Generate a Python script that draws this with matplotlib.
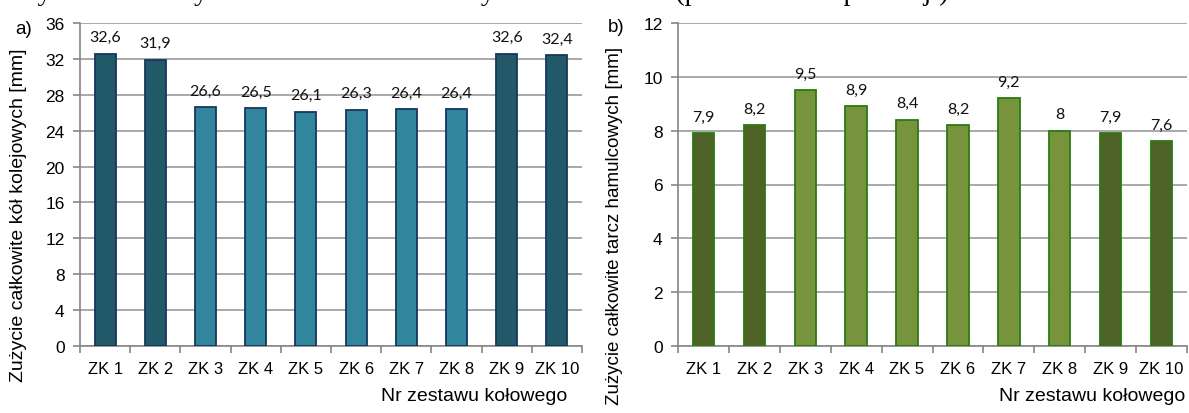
import matplotlib
matplotlib.use("Agg")
import matplotlib.pyplot as plt
from matplotlib.ticker import MultipleLocator, FixedLocator

# ---- data -------------------------------------------------------------
categories = ["ZK 1", "ZK 2", "ZK 3", "ZK 4", "ZK 5",
              "ZK 6", "ZK 7", "ZK 8", "ZK 9", "ZK 10"]
wheel_wear = [32.6, 31.9, 26.6, 26.5, 26.1, 26.3, 26.4, 26.4, 32.6, 32.4]
disc_wear = [7.9, 8.2, 9.5, 8.9, 8.4, 8.2, 9.2, 8.0, 7.9, 7.6]
# wheelsets drawn in the darker shade
dark_sets = ["ZK 1", "ZK 2", "ZK 9", "ZK 10"]

W, H = 1189, 414
fig = plt.figure(figsize=(W / 100, H / 100), dpi=100)
fig.patch.set_facecolor("white")


def fx(px):
    return px / W


def fy(py):
    return 1 - py / H


def fmt(v):
    return ("%g" % v).replace(".", ",")


grid_col = "#A3A3A3"
spine_col = "#868686"
sans = "Liberation Sans"


def draw(ax, values, ymax, ystep, light, dark, edge):
    x = list(range(len(categories)))
    colors = [dark if c in dark_sets else light for c in categories]
    bars = ax.bar(x, values, width=0.42, color=colors, edgecolor=edge,
                  linewidth=1.3, zorder=3)
    for b, v in zip(bars, values):
        ax.annotate(fmt(v), (b.get_x() + b.get_width() / 2, v),
                    xytext=(0, 12), textcoords="offset points",
                    ha="center", va="center", fontsize=11.5,
                    family="Lato", color="#111111")
    ax.set_xlim(-0.5, len(categories) - 0.5)
    ax.set_ylim(0, ymax)
    ax.yaxis.set_major_locator(MultipleLocator(ystep))
    ax.set_xticks(x)
    ax.set_xticklabels(categories, fontsize=12, family=sans)
    ax.xaxis.set_minor_locator(FixedLocator([i - 0.5 for i in range(len(categories) + 1)]))
    ax.tick_params(axis="x", which="major", length=0, pad=10.5)
    ax.tick_params(axis="x", which="minor", length=5, width=1.2,
                   color=spine_col, direction="out")
    ax.tick_params(axis="y", length=5, width=1.2, color=spine_col, pad=6,
                   labelsize=12.5)
    for lab in ax.get_yticklabels():
        lab.set_family(sans)
    ax.grid(axis="y", color=grid_col, linewidth=1.3, zorder=0)
    ax.set_axisbelow(True)
    for s in ("top", "right"):
        ax.spines[s].set_visible(False)
    for s in ("left", "bottom"):
        ax.spines[s].set_color(spine_col)
        ax.spines[s].set_linewidth(1.2)


ax1 = fig.add_axes([fx(80), fy(347), fx(502), (347 - 24) / H])
draw(ax1, wheel_wear, 36, 4, "#31859C", "#215968", "#17375E")

ax2 = fig.add_axes([fx(678), fy(347), fx(509), (347 - 24) / H])
draw(ax2, disc_wear, 12, 2, "#77933C", "#4F6228", "#2B7A12")

# axis titles
fig.text(fx(19), fy(215), "Zużycie całkowite kół kolejowych [mm]",
         rotation=90, ha="center", va="center", fontsize=14, family=sans)
fig.text(fx(614), fy(226), "Zużycie całkowite tarcz hamulcowych [mm]",
         rotation=90, ha="center", va="center", fontsize=13.5, family=sans)
fig.text(fx(567), fy(397), "Nr zestawu kołowego", ha="right", va="center",
         fontsize=14, family=sans)
fig.text(fx(1185), fy(397), "Nr zestawu kołowego", ha="right", va="center",
         fontsize=14, family=sans)

# panel letters
fig.text(fx(24), fy(29), "a)", ha="center", va="center", fontsize=13.5, family=sans)
fig.text(fx(616), fy(27), "b)", ha="center", va="center", fontsize=13.5, family=sans)

# caption line running off the top edge
fig.text(fx(20), 1.0,
         "Rysunek 6. Zużycie kół i tarcz hamulcowych w zestawach (po okresie eksploatacji)",
         ha="left", va="baseline", fontsize=20, family="Liberation Serif")

fig.savefig("out.png", dpi=100)
